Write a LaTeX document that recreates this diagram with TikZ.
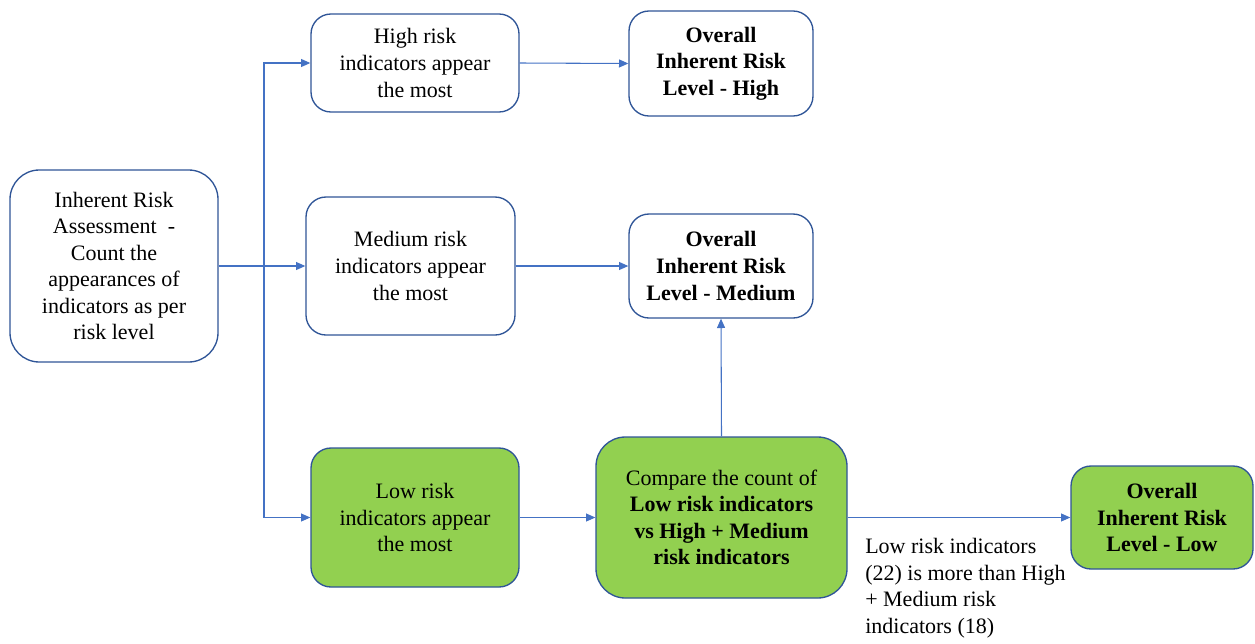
\documentclass[tikz,border=0pt]{standalone}
\usepackage{fontspec}
\setmainfont{Liberation Serif}
\usetikzlibrary{arrows.meta}
\definecolor{bord}{HTML}{2F5597}
\definecolor{conn}{HTML}{4472C4}
\definecolor{grn}{HTML}{92D050}
\begin{document}
\begin{tikzpicture}[x=0.75pt,y=-0.75pt,
  box/.style={draw=bord, line width=1pt, rounded corners=15pt, align=center, inner sep=0pt,
    font=\fontsize{16.5}{19.9}\selectfont},
  gbox/.style={box, fill=grn},
  conline/.style={draw=conn, line width=0.8pt},
  arr/.style={conline, -{Triangle[length=7pt,width=6pt]}}]
\useasboundingbox (0,0) rectangle (1255,643);
\node[box, rounded corners=22pt, minimum width=156pt, minimum height=144pt] (start) at (114,266)
  {Inherent Risk\\Assessment\ \ -\\Count the\\appearances of\\indicators as per\\risk level};
\node[box, minimum width=156pt, minimum height=73.5pt] (high) at (415,63)
  {High risk\\indicators appear\\the most};
\node[box, minimum width=138pt, minimum height=78.75pt] (ohigh) at (721,63.5)
  {\textbf{Overall}\\\textbf{Inherent Risk}\\\textbf{Level - High}};
\node[box, minimum width=156.75pt, minimum height=103.5pt] (med) at (410.5,266)
  {Medium risk\\indicators appear\\the most};
\node[box, minimum width=138pt, minimum height=78pt] (omed) at (721,266)
  {\textbf{Overall}\\\textbf{Inherent Risk}\\\textbf{Level - Medium}};
\node[gbox, minimum width=156pt, minimum height=104.25pt] (low) at (415,517.5)
  {Low risk\\indicators appear\\the most};
\node[gbox, rounded corners=22pt, minimum width=188.25pt, minimum height=120.75pt] (cmp) at (721.5,517.5)
  {Compare the count of\\\textbf{Low risk indicators}\\\textbf{vs High + Medium}\\\textbf{risk indicators}};
\node[gbox, minimum width=136.5pt, minimum height=77.25pt] (olow) at (1162,517.5)
  {\textbf{Overall}\\\textbf{Inherent Risk}\\\textbf{Level - Low}};
\node[anchor=north west, align=left, inner sep=0pt, font=\fontsize{16.5}{19.9}\selectfont] (lbl) at (865,538)
  {Low risk indicators\\(22) is more than High\\+ Medium risk\\indicators (18)};
\coordinate (tr) at (264,266);
\draw[conline] (start.east) -- (tr);
\draw[arr] (tr) -- (med.west);
\draw[arr] (tr) |- (high.west);
\draw[arr] (tr) |- (low.west);
\draw[arr] (high.east) -- (ohigh.west);
\draw[arr] (med.east) -- (omed.west |- med.east);
\draw[arr] (low.east) -- (cmp.west);
\draw[arr] (cmp.east) -- (olow.west);
\draw[arr] (cmp.north) -- (omed.south);
\end{tikzpicture}
\end{document}
